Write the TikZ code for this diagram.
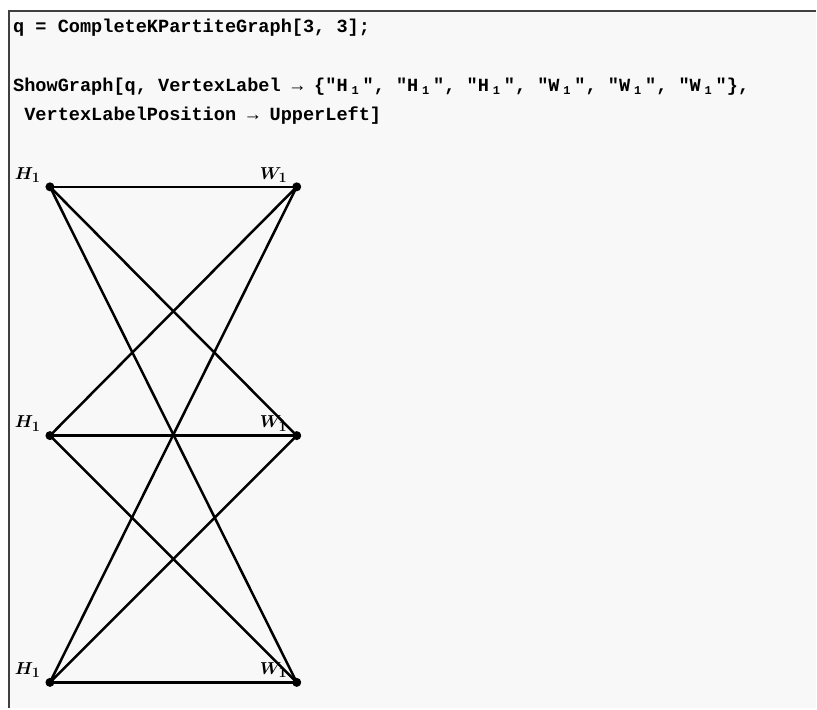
\documentclass[tikz,border=0pt]{standalone}
\usepackage{fontspec}
\setmonofont{Liberation Mono}
\definecolor{cellbg}{HTML}{F8F8F8}
\definecolor{cellframe}{HTML}{404040}
\newcommand{\subone}{\makebox[0.8em][c]{\raisebox{-0.3ex}{\fontsize{12}{12}\selectfont 1}}}
\tikzset{
  vertex/.style={circle,fill=black,inner sep=0pt,minimum size=9pt},
  codeline/.style={anchor=base west,inner sep=0pt,font=\fontsize{18.6}{22}\selectfont\ttfamily\bfseries},
  vlabel/.style={font=\fontsize{19}{22}\selectfont\boldmath,inner sep=1pt,xshift=-5pt},
  edge/.style={line width=2.5pt}
}
\begin{document}
\begin{tikzpicture}[x=1pt,y=-1pt]
        \fill[white] (0,0) rectangle (817,709);
        \fill[cellbg] (9,11) rectangle (817,709);
        \draw[cellframe,line width=1.5pt] (817,11) -- (9,11) -- (9,709);
        % input cell
        \node[codeline] (in1) at (13,33) {q = CompleteKPartiteGraph[3, 3];};
        \node[codeline] (in2) at (13,92) {ShowGraph[q, VertexLabel → \{"H\subone", "H\subone", "H\subone", "W\subone", "W\subone", "W\subone"\},};
        \node[codeline] (in3) at (13,121) {\ VertexLabelPosition → UpperLeft]};
        % the graph
        \foreach \i/\y in {1/187,2/436,3/683} {
            \node[vertex,label={[vlabel]above left:$H_1$}] (h\i) at (50,\y) {};
            \node[vertex,label={[vlabel]above left:$W_1$}] (w\i) at (297,\y) {};
        }
        \foreach \i in {1,2,3}
            \foreach \j in {1,2,3}
                \draw[edge] (h\i.center) -- (w\j.center);
    \end{tikzpicture}
\end{document}
